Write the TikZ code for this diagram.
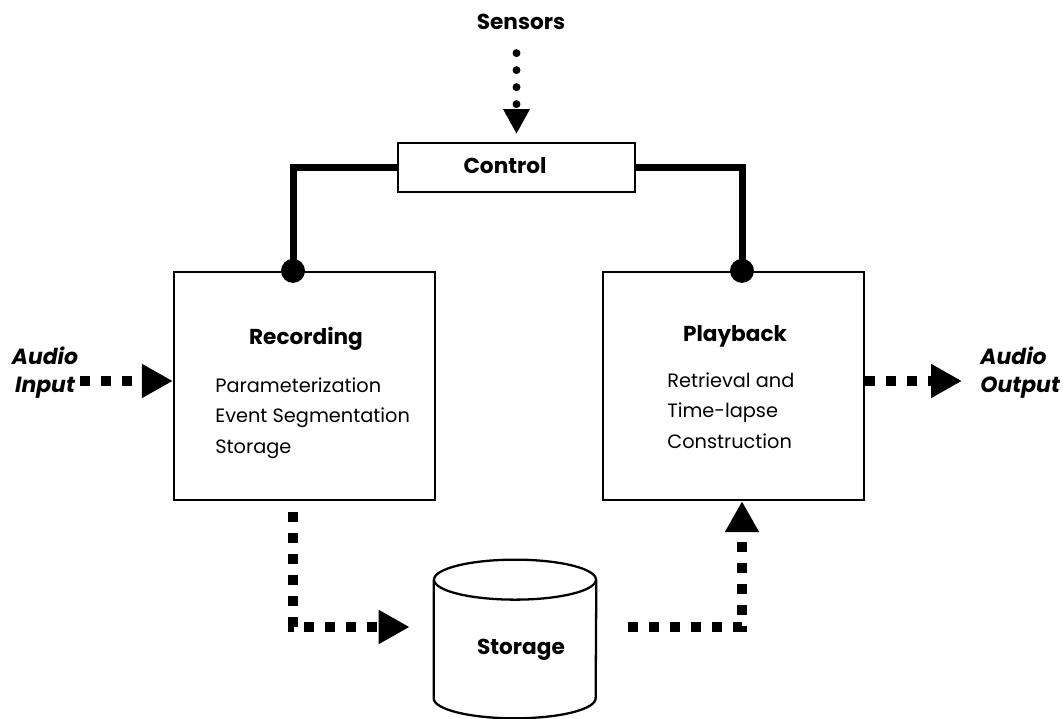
\documentclass[tikz,border=0pt]{standalone}
\usepackage{fontspec}
\setmainfont{Poppins}
\usetikzlibrary{arrows.meta, positioning, calc}
\tikzset{
  % blocks
  block/.style={rectangle, draw=black, line width=1.3pt, minimum width=5.22cm, minimum height=4.56cm},
  ctlbox/.style={rectangle, draw=black, line width=1.1pt, minimum width=4.74cm, minimum height=0.98cm},
  % texts
  title/.style={font=\bfseries\fontsize{12.3}{15}\selectfont, inner sep=0pt},
  body/.style={font=\fontsize{11}{17.6}\selectfont, align=left, inner sep=0pt},
  io/.style={font=\bfseries\itshape\fontsize{12.5}{16}\selectfont, inner sep=0pt},
  % connectors
  bus/.style={line width=0.14cm},
  tap/.style={circle, fill=black, inner sep=0pt, minimum size=0.48cm},
  sqflow/.style={line width=0.2cm, dash pattern=on 0.2cm off 0.22cm, -{Triangle[length=0.62cm, width=0.64cm]}},
  dotflow/.style={line width=0.16cm, line cap=round, dash pattern=on 0pt off 0.34cm, -{Triangle[length=0.5cm, width=0.5cm]}},
}
\begin{document}
\begin{tikzpicture}[x=0.02cm, y=0.02cm]
  \useasboundingbox (0,0) rectangle (1063,-719);

  % main blocks
  \node[block] (rec) at (304.5,-386) {};
  \node[block] (play) at (733.5,-386) {};
  \node[ctlbox] (ctl) at (516.5,-167.5) {};
  \node[title] (ctltitle) at (505,-166) {Control};
  \node[title] (sens) at (521,-22) {Sensors};

  % block texts
  \node[title] (rectitle) at (306,-339) {Recording};
  \node[body, anchor=north west] (recbody) at (215,-377) {Parameterization\\Event Segmentation\\Storage};
  \node[title] (playtitle) at (735,-336) {Playback};
  \node[body, anchor=north west] (playbody) at (667,-372) {Retrieval and\\Time-lapse\\Construction};

  % storage cylinder
  \node[minimum width=3.24cm, minimum height=2.36cm] (store) at (515,-639) {};
  \draw[line width=1.3pt] (store.north west) -- (store.south west)
    arc[start angle=180, end angle=360, x radius=1.62cm, y radius=0.4cm] -- (store.north east);
  \draw[line width=1.3pt] (store.north) ellipse[x radius=1.62cm, y radius=0.4cm];
  \node[title] (storelbl) at (521,-650) {Storage};

  % audio in and out
  \node[io, align=center] (ain) at (45,-373) {Audio\\Input};
  \node[io, align=left, anchor=west] (aout) at (980,-373) {Audio\\Output};

  % control bus
  \coordinate (lbus) at (293,-170);
  \coordinate (rbus) at (742,-170);
  \draw[bus] (ctl.west) -| (rec.north -| lbus);
  \draw[bus] (ctl.east) -| (play.north -| rbus);
  \node[tap] (rectap) at (rec.north -| lbus) {};
  \node[tap] (playtap) at (play.north -| rbus) {};

  % flows
  \draw[dotflow] ([yshift=-0.46cm]sens.south -| ctl.north) -- ([yshift=0.16cm]ctl.north);
  \coordinate (ainstart) at (80,-381);
  \draw[sqflow] (ainstart) -- (rec.west |- ainstart);
  \coordinate (aoutend) at (962,-381);
  \draw[sqflow] (play.east |- aoutend) -- (aoutend);
  \coordinate (lcorner) at (293,-627);
  \coordinate (rcorner) at (742,-627);
  \draw[sqflow] ([yshift=-0.22cm]rec.south -| lbus) -- (lcorner) -- ([xshift=-0.48cm]store.west |- lcorner);
  \draw[sqflow] ([xshift=0.64cm]store.east |- rcorner) -- (rcorner) -- (play.south -| rcorner);
\end{tikzpicture}
\end{document}
